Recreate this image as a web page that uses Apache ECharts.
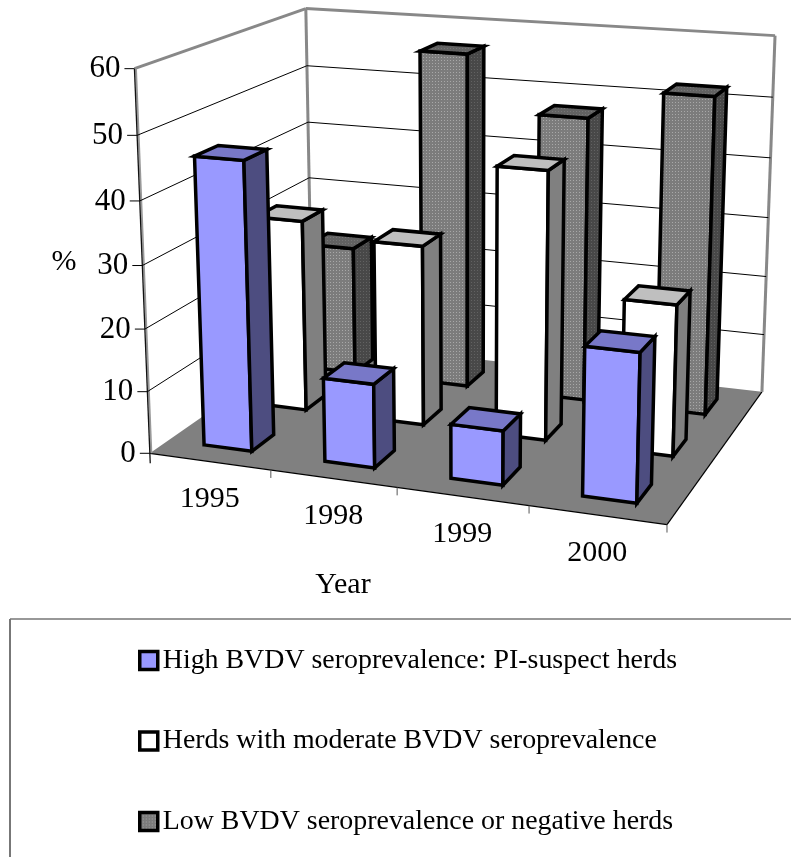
<!DOCTYPE html>
<html><head><meta charset="utf-8">
<style>html,body{margin:0;padding:0;background:#fff}#c{width:791px;height:857px}</style>
<script src="https://cdn.jsdelivr.net/npm/echarts@6/dist/echarts.min.js"></script>
</head><body><div id="c"></div>
<script>
const years = ['1995','1998','1999','2000'];
const yTicks = [0,10,20,30,40,50,60];
const highSeries = [46,13.3,8.5,22.9];
const moderateSeries = [31.7,29.5,43.3,24.2];
const lowSeries = [22,56.5,47.4,52.3];
const seriesNames = ['High BVDV seroprevalence: PI-suspect herds','Herds with moderate BVDV seroprevalence','Low BVDV seroprevalence or negative herds'];
const FONT = '"Liberation Serif","Times New Roman",serif';

// camera calibration: box coordinates (u along years, v height, w depth) <-> page
const anchors = [
 [0,0,0,150,453.5],[0,1,0,134,68.3],[1,0,0,667,522.3],[0,0,1,312,338],[0,1,1,306,9.5],[1,1,1,775,35],[1,0,1,762,394],
 [0,1/6,0,146.7,391.7],[0,2/6,0,145,329.3],[0,3/6,0,143.3,265.7],[0,4/6,0,140,201],[0,5/6,0,136.7,135],
 [.25,0,0,271,472],[.5,0,0,397,488],[.75,0,0,529,505]];
function solveCamera(){
  const A=[],B=[];
  anchors.forEach(([u,v,w,x,y])=>{
    A.push([u,v,w,1,0,0,0,0,-x*u,-x*v,-x*w]);B.push(x);
    A.push([0,0,0,0,u,v,w,1,-y*u,-y*v,-y*w]);B.push(y);
  });
  const n=11,M=[];
  for(let i=0;i<n;i++){M.push(new Array(n+1).fill(0));
    for(let j=0;j<n;j++)for(let r=0;r<A.length;r++)M[i][j]+=A[r][i]*A[r][j];
    for(let r=0;r<A.length;r++)M[i][n]+=A[r][i]*B[r];}
  for(let i=0;i<n;i++){let p=i;for(let r=i+1;r<n;r++)if(Math.abs(M[r][i])>Math.abs(M[p][i]))p=r;
    [M[i],M[p]]=[M[p],M[i]];
    for(let r=0;r<n;r++)if(r!==i){const f=M[r][i]/M[i][i];for(let c=i;c<=n;c++)M[r][c]-=f*M[i][c];}}
  return M.map((row,i)=>row[n]/row[i]);
}
const K=solveCamera();
function project(u,v,w){const d=K[8]*u+K[9]*v+K[10]*w+1;
  return [(K[0]*u+K[1]*v+K[2]*w+K[3])/d,(K[4]*u+K[5]*v+K[6]*w+K[7])/d];}

function tile(bg,dot){const c=document.createElement('canvas');c.width=c.height=3;const g=c.getContext('2d');
  g.fillStyle=bg;g.fillRect(0,0,3,3);g.fillStyle=dot;g.fillRect(0,0,1,1);return {image:c,repeat:'repeat'};}
const palettes=[
 {front:'#9999ff',side:'#4d4d80',top:'#7878c8'},
 {front:'#ffffff',side:'#808080',top:'#bfbfbf'},
 {front:tile('#7c7c7c','#a8a8a8'),side:tile('#484848','#626262'),top:tile('#626262','#767676')}];

const barW=0.40/4, rowDepth=0.13;
function toUV(api,params,cat,val){const p=api.coord([cat,val]),g=params.coordSys;
  return [(p[0]-g.x)/g.width,1-(p[1]-g.y)/g.height];}

function barRenderer(row){return function(params,api){
  const cat=api.value(0),val=api.value(1);
  const [uc,v]=toUV(api,params,cat,val);
  const u0=uc-barW/2,u1=uc+barW/2,wc=(row+0.5)/3,w0=wc-rowDepth/2,w1=wc+rowDepth/2;
  const s=palettes[row];
  const face=(pts,fill)=>({type:'polygon',shape:{points:pts},style:{fill,stroke:'#000',lineWidth:3.5,lineJoin:'miter'}});
  return {type:'group',children:[
    face([project(u0,0,w0),project(u1,0,w0),project(u1,v,w0),project(u0,v,w0)],s.front),
    face([project(u1,0,w0),project(u1,0,w1),project(u1,v,w1),project(u1,v,w0)],s.side),
    face([project(u0,v,w0),project(u1,v,w0),project(u1,v,w1),project(u0,v,w1)],s.top)]};
};}
function line(a,b,stroke,lineWidth){return {type:'line',shape:{x1:a[0],y1:a[1],x2:b[0],y2:b[1]},style:{stroke,lineWidth}};}
function poly(pts,fill){return {type:'polygon',shape:{points:pts},style:{fill}};}

function renderShell(){
  const a=project(0,0,0),b=project(1,0,0),c=project(1,0,1),d=project(0,0,1),
        e=project(0,1,0),f=project(0,1,1),g=project(1,1,1);
  return {type:'group',children:[
    poly([a,b,c,d],'#808080'),
    line(a,b,'#000',1.2),line(b,c,'#000',1.2),
    line(e,f,'#888',3),line(f,g,'#888',3),line(f,d,'#888',3),line(g,c,'#888',3),
    line([e[0]+1.5,e[1]],[a[0]+1.5,a[1]],'#999',2),
    line(e,[a[0]+0.4,a[1]+10],'#111',1.3)]};
}
function renderY(params,api){
  const val=api.value(0),[,v]=toUV(api,params,0,val);
  const a=project(0,v,0),b=project(0,v,1),c=project(1,v,1),kids=[];
  if(val>0&&val<60){kids.push(line(a,b,'#000',1),line(b,c,'#000',1));}
  kids.push(line([a[0]-10,a[1]],a,'#000',1));
  kids.push({type:'text',style:{text:String(val),x:a[0]-14,y:a[1]+0.5,align:'right',verticalAlign:'middle',font:'31px '+FONT,fill:'#000'}});
  return {type:'group',children:kids};
}
function renderX(params,api){
  const cat=api.value(0),[uc]=toUV(api,params,cat,0),band=1/years.length;
  const p=project(uc,0,0),t=project(uc+band/2,0,0);
  return {type:'group',children:[
    line(t,[t[0],t[1]+8],'#555',1),
    {type:'text',style:{text:years[cat],x:p[0],y:p[1]+38,align:'center',verticalAlign:'middle',font:'30px '+FONT,fill:'#000'}}]};
}
const barSeries=(row,vals)=>({type:'custom',name:seriesNames[row],z:5-row,renderItem:barRenderer(row),
  itemStyle:{color:palettes[row].front},
  encode:{x:0,y:1},data:vals.map((v,i)=>[i,v])});

const chart=echarts.init(document.getElementById('c'),null,{renderer:'canvas'});
chart.setOption({
  animation:false,
  grid:{left:100,top:100,width:400,height:400,show:false},
  xAxis:{type:'category',data:years,show:false},
  yAxis:{type:'value',min:0,max:60,interval:10,show:false},
  legend:{
    data:seriesNames,orient:'vertical',left:138,top:646.5,height:205,
    padding:0,itemGap:52.5,itemWidth:18,itemHeight:18,
    icon:'rect',selectedMode:false,
    itemStyle:{borderColor:'#000',borderWidth:3.5},
    textStyle:{fontFamily:FONT,fontSize:27.9,color:'#000'}
  },
  graphic:[
    {type:'line',shape:{x1:10,y1:619,x2:791,y2:619},style:{stroke:'#333',lineWidth:1.2}},
    {type:'line',shape:{x1:10,y1:619,x2:10,y2:857},style:{stroke:'#777',lineWidth:2}},
    {type:'text',style:{text:'%',x:64,y:262,align:'center',verticalAlign:'middle',font:'30px '+FONT,fill:'#000'}},
    {type:'text',style:{text:'Year',x:343,y:585,align:'center',verticalAlign:'middle',font:'30px '+FONT,fill:'#000'}}],
  series:[
    {type:'custom',z:1,renderItem:renderShell,data:[[0]],silent:true},
    {type:'custom',z:1,renderItem:renderY,encode:{y:0},data:yTicks.map(v=>[v]),silent:true},
    {type:'custom',z:1,renderItem:renderX,data:years.map((y,i)=>[i]),silent:true},
    barSeries(2,lowSeries),barSeries(1,moderateSeries),barSeries(0,highSeries)]
});
</script></body></html>
